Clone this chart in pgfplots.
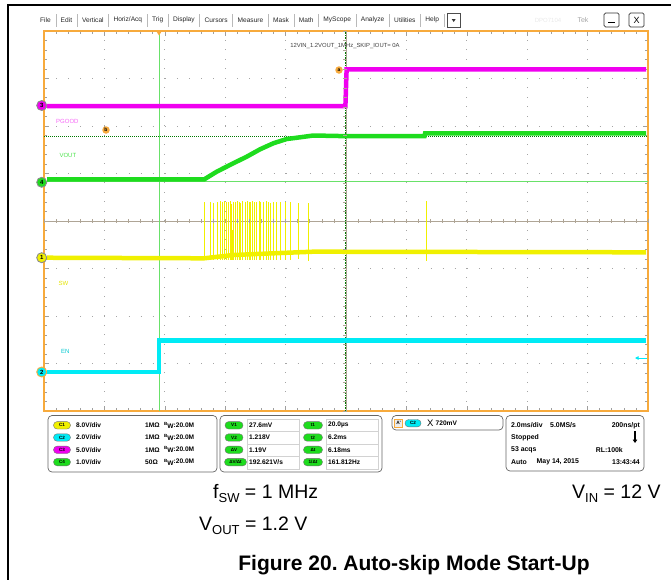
\documentclass[border=0pt]{standalone}
\usepackage{pgfplots}
\pgfplotsset{compat=1.18}
\usepackage{fontspec}
\setmainfont{Liberation Sans}
\usetikzlibrary{arrows.meta}

\definecolor{scopeorange}{RGB}{247,170,60}
\definecolor{trYellow}{RGB}{240,240,0}
\definecolor{trCyan}{RGB}{0,235,245}
\definecolor{trMagenta}{RGB}{240,0,240}
\definecolor{trGreen}{RGB}{30,220,30}
\definecolor{curLight}{RGB}{105,225,105}
\definecolor{curDark}{RGB}{0,120,0}
\definecolor{gridc}{RGB}{165,165,165}
\definecolor{centerc}{RGB}{175,165,150}
\definecolor{ringc}{RGB}{140,140,140}

% pill shaped channel badge: [width]{x}{y}{colour}{text}
\newcommand{\badge}[5][17]{\node[rounded corners=3.6pt, fill=#4, draw=black!55, line width=0.4pt,
  minimum width=#1pt, minimum height=7.4pt, inner sep=0pt,
  font=\fontsize{4.6}{5}\selectfont\bfseries] at (#2,#3) {#5};}
% channel ground marker on the left edge
\newcommand{\chmark}[5]{\node[circle, fill=#3, draw=#4, line width=0.9pt, minimum size=10pt,
  inner sep=0pt, font=\fontsize{6}{6}\selectfont\bfseries] at (#1,#2) {#5};}
\newcommand{\bw}{\raisebox{1.8pt}{\fontsize{4.5}{5}\selectfont B}\raisebox{-1.3pt}{W}:20.0M}

\begin{document}
\begin{tikzpicture}[x=1pt,y=-1pt]
% window frame
\draw[black, line width=1.2pt] (8,580) -- (8,5) -- (672,5);

% menu bar
\tikzset{menu/.style={inner sep=0pt, font=\fontsize{6.6}{7}\selectfont, text=black!85}}
\foreach \t [count=\i, remember=\i as \j (initially 0)] in
  {File,Edit,Vertical,Horiz/Acq,Trig,Display,Cursors,Measure,Mask,Math,MyScope,Analyze,Utilities,Help} {
  \ifnum\i=1
    \node[menu, anchor=west] (m\i) at (40,20) {\t};
  \else
    \node[menu, anchor=west] (m\i) at ([xshift=9.5pt]m\j.east) {\t};
    \draw[gray!55, line width=0.5pt] ([xshift=4.75pt,yshift=-6.5pt]m\j.east) -- ++(0,13pt);
  \fi
}
\draw[gray!55, line width=0.5pt] ([xshift=4.75pt,yshift=-6.5pt]m14.east) -- ++(0,13pt);
\draw[black!70, line width=0.6pt] ([xshift=8pt,yshift=-7pt]m14.east) rectangle ++(13pt,14pt);
\fill[black!80] ([xshift=12.5pt,yshift=1pt]m14.east) -- ++(4pt,0) -- ++(-2pt,-3pt) -- cycle;
\node[font=\fontsize{6}{7}\selectfont, text=gray!18] at (548,20) {DPO7104};
\node[font=\fontsize{7}{8}\selectfont, text=gray!70] at (583,20) {Tek};
\draw[black!80, line width=0.7pt, rounded corners=1.5pt] (604,13) rectangle (619,27);
\draw[black, line width=1.1pt] (608,22.5) -- (615,22.5);
\draw[black!80, line width=0.7pt, rounded corners=1.5pt] (629,13) rectangle (644,27);
\node[font=\fontsize{9}{9}\selectfont] at (636.5,20) {X};

\begin{axis}[
  at={(44pt,-411pt)}, anchor=south west,
  scale only axis, width=604pt, height=380pt,
  xmin=0, xmax=10, ymin=0, ymax=8,
  axis line style={draw=scopeorange, line width=2pt},
  xtick={0,...,10}, ytick={0,...,8},
  minor x tick num=4, minor y tick num=4,
  xticklabels={}, yticklabels={},
  tick align=inside, major tick length=5pt, minor tick length=3pt,
  tick style={gray!75, line width=0.6pt},
  grid=major,
  major x grid style={gridc, line width=0.8pt, dash pattern=on 0.8pt off 8.7pt},
  major y grid style={gridc, line width=0.8pt, dash pattern=on 0.8pt off 11.28pt},
  clip=true,
]
% centre cross hair and cursors
\draw[centerc, line width=0.9pt] (axis cs:0,4) -- (axis cs:10,4);
\draw[centerc, line width=0.9pt] (axis cs:5,0) -- (axis cs:5,8);
\draw[curLight, line width=1pt] (axis cs:1.904,0) -- (axis cs:1.904,8);
\draw[curLight, line width=1pt] (axis cs:0,4.836) -- (axis cs:10,4.836);
\draw[curDark, line width=0.8pt, dash pattern=on 1pt off 1pt] (axis cs:0,5.78) -- (axis cs:10,5.78);
\draw[curDark, line width=1pt, dash pattern=on 1.5pt off 1pt] (axis cs:4.99,0) -- (axis cs:4.99,8);

% C2 EN
\addplot[trCyan, line width=4.5pt, no marks] coordinates {
  (0.05,0.821) (1.90,0.821) (1.90,1.48) (9.97,1.48)};
% C1 SW band
\addplot[trYellow, line width=4.5pt, no marks] coordinates {
  (0.05,3.227) (2.649,3.215) (3.134,3.284) (3.796,3.32) (4.459,3.354) (9.97,3.341)};
% C1 SW switching spikes
\addplot[trYellow, line width=0.75pt, no marks, unbounded coords=jump] coordinates {
  (2.649,3.18) (2.649,4.41) (2.649,nan)
  (2.760,3.18) (2.760,4.40) (2.760,nan)
  (2.803,3.18) (2.803,4.37) (2.803,nan)
  (2.869,3.18) (2.869,4.39) (2.869,nan)
  (2.925,3.18) (2.925,4.42) (2.925,nan)
  (2.952,3.18) (2.952,4.40) (2.952,nan)
  (2.980,3.18) (2.980,4.43) (2.980,nan)
  (3.025,3.18) (3.025,4.41) (3.025,nan)
  (3.051,3.18) (3.051,4.39) (3.051,nan)
  (3.079,3.18) (3.079,4.42) (3.079,nan)
  (3.098,3.18) (3.098,4.36) (3.098,nan)
  (3.118,3.18) (3.118,3.82) (3.118,nan)
  (3.140,3.18) (3.140,4.41) (3.140,nan)
  (3.162,3.18) (3.162,4.40) (3.162,nan)
  (3.200,3.18) (3.200,4.43) (3.200,nan)
  (3.233,3.18) (3.233,4.41) (3.233,nan)
  (3.257,3.18) (3.257,4.38) (3.257,nan)
  (3.290,3.18) (3.290,4.42) (3.290,nan)
  (3.328,3.18) (3.328,4.40) (3.328,nan)
  (3.366,3.18) (3.366,4.43) (3.366,nan)
  (3.404,3.18) (3.404,4.41) (3.404,nan)
  (3.422,3.18) (3.422,4.39) (3.422,nan)
  (3.449,3.18) (3.449,4.42) (3.449,nan)
  (3.488,3.18) (3.488,4.40) (3.488,nan)
  (3.522,3.18) (3.522,4.41) (3.522,nan)
  (3.560,3.18) (3.560,4.43) (3.560,nan)
  (3.588,3.18) (3.588,4.39) (3.588,nan)
  (3.631,3.18) (3.631,4.41) (3.631,nan)
  (3.676,3.18) (3.676,4.42) (3.676,nan)
  (3.720,3.18) (3.720,4.40) (3.720,nan)
  (3.753,3.18) (3.753,4.38) (3.753,nan)
  (3.796,3.18) (3.796,4.41) (3.796,nan)
  (3.853,3.18) (3.853,4.40) (3.853,nan)
  (3.919,3.18) (3.919,4.39) (3.919,nan)
  (3.990,3.18) (3.990,4.41) (3.990,nan)
  (4.084,3.18) (4.084,4.40) (4.084,nan)
  (4.210,3.20) (4.210,4.38) (4.210,nan)
  (4.376,3.16) (4.376,4.37) (4.376,nan)
  (6.325,3.16) (6.325,4.43)};
% C4 VOUT
\addplot[trGreen, line width=4.5pt, no marks] coordinates {
  (0.05,4.874) (2.649,4.874) (2.859,5.038) (3.134,5.215) (3.356,5.354)
  (3.576,5.509) (3.796,5.636) (4.018,5.726) (4.238,5.762) (4.459,5.800)
  (4.901,5.789) (6.30,5.789) (6.31,5.846) (9.97,5.846)};
% C3 PGOOD
\addplot[trMagenta, line width=4.5pt, no marks] coordinates {
  (0.05,6.42) (4.99,6.42) (5.01,7.19) (9.97,7.19)};
\end{axis}

% ticks on the centre lines
\foreach \i in {0,...,50} \draw[centerc, line width=0.6pt] ({44+\i*12.08},219) -- ++(0,4);
\foreach \i in {0,...,40} \draw[centerc, line width=0.6pt] (343,{31+\i*9.5}) -- ++(4,0);

% trigger marks
\fill[scopeorange] (155.5,30) -- (162.5,30) -- (159,35.5) -- cycle;
\draw[trCyan, line width=0.8pt, -{Triangle[width=3.5pt,length=3.5pt]}] (647,358) -- (635,358);

% channel ground markers
\chmark{41.7}{105.5}{trMagenta}{ringc}{3}
\chmark{41.7}{182.3}{trGreen}{ringc}{4}
\chmark{41.7}{257.7}{trYellow}{ringc}{1}
\chmark{41.7}{372}{trCyan}{scopeorange}{2}

% cursor markers
\node[circle, fill=scopeorange, inner sep=0pt, minimum size=7.5pt, font=\fontsize{5}{5}\selectfont\bfseries] at (339,70) {a};
\node[circle, fill=scopeorange, inner sep=0pt, minimum size=7.5pt, font=\fontsize{5}{5}\selectfont\bfseries] at (106,130) {b};

% labels on screen
\node[font=\fontsize{5.9}{6}\selectfont, text=black!75] at (345,45.7) {12VIN\_1.2VOUT\_1MHz\_SKIP\_IOUT= 0A};
\tikzset{lab/.style={anchor=west, inner sep=0pt, font=\fontsize{6}{6}\selectfont}}
\node[lab, text=trMagenta!60] at (56,121.7) {PGOOD};
\node[lab, text=trGreen!80] at (59.3,155.7) {VOUT};
\node[lab, text=trYellow!95!black] at (58.3,283) {SW};
\node[lab, text=trCyan!85!black] at (61,351.7) {EN};

% status panels
\tikzset{pan/.style={draw=black!60, line width=0.7pt, rounded corners=4pt},
         ptx/.style={anchor=west, inner sep=0pt, font=\fontsize{6.6}{7}\selectfont\bfseries}}
\draw[pan] (48,415.5) rectangle (217,472);
\draw[pan] (220,415.5) rectangle (382,472);
\draw[pan] (392,415.5) rectangle (503,430);
\draw[pan] (506,415.5) rectangle (644,471);

% panel 1
\badge{62}{425.3}{trYellow}{C1}
\badge{62}{437.5}{trCyan}{C2}
\badge{62}{449.8}{trMagenta}{C3}
\badge{62}{462.1}{trGreen}{C4}
\node[ptx] at (76,425.3) {8.0V/div};
\node[ptx] at (76,437.5) {2.0V/div};
\node[ptx] at (76,449.8) {5.0V/div};
\node[ptx] at (76,462.1) {1.0V/div};
\node[ptx] at (145,425.3) {1MΩ};
\node[ptx] at (145,437.5) {1MΩ};
\node[ptx] at (145,449.8) {1MΩ};
\node[ptx] at (145,462.1) {50Ω};
\node[ptx] at (164,425.3) {\bw};
\node[ptx] at (164,437.5) {\bw};
\node[ptx] at (164,449.8) {\bw};
\node[ptx] at (164,462.1) {\bw};

% panel 2
\foreach \xa/\xb in {247/299, 326/378} {
  \draw[gray!35, line width=0.5pt] (\xa,419.3) rectangle (\xb,469);
  \foreach \yy in {431.5, 444, 456.5} \draw[gray!35, line width=0.5pt] (\xa,\yy) -- (\xb,\yy);
}
\badge[18]{234}{425.3}{trGreen}{V1}
\badge[18]{234}{437.5}{trGreen}{V2}
\badge[18]{234}{449.8}{trGreen}{ΔV}
\badge[22]{235.5}{462.1}{trGreen}{ΔV/Δt}
\badge[19]{313}{425.3}{trGreen}{t1}
\badge[19]{313}{437.5}{trGreen}{t2}
\badge[19]{313}{449.8}{trGreen}{Δt}
\badge[19]{313}{462.1}{trGreen}{1/Δt}
\node[ptx] at (249,425.3) {27.6mV};
\node[ptx] at (249,437.5) {1.218V};
\node[ptx] at (249,449.8) {1.19V};
\node[ptx] at (249,462.1) {192.621V/s};
\node[ptx] at (328,425.3) {20.0µs};
\node[ptx] at (328,437.5) {6.2ms};
\node[ptx] at (328,449.8) {6.18ms};
\node[ptx] at (328,462.1) {161.812Hz};

% panel 3
\node[draw=scopeorange, fill=gray!15, line width=0.6pt, minimum width=8pt, minimum height=7.5pt,
  inner sep=0pt, font=\fontsize{4.8}{5}\selectfont\bfseries] at (398.7,423.2) {A'};
\badge[16]{413}{423.2}{trCyan}{C2}
\node[inner sep=0pt, font=\fontsize{9.5}{10}\selectfont] at (430.3,423.2) {X};
\node[ptx] at (435.5,423.2) {720mV};

% panel 4
\tikzset{ptq/.style={ptx, font=\fontsize{6.9}{7}\selectfont\bfseries}}
\node[ptq] at (511,425.3) {2.0ms/div};
\node[ptq] at (550,425.3) {5.0MS/s};
\node[ptq, anchor=east] at (640,425.3) {200ns/pt};
\node[ptq] at (511,437.5) {Stopped};
\draw[black, line width=1.4pt, -{Triangle[width=4.5pt,length=3.5pt]}] (635,431) -- (635,443);
\node[ptq] at (511,449.8) {53 acqs};
\node[ptq, anchor=east] at (623,449.8) {RL:100k};
\node[ptq] at (511,462.1) {Auto};
\node[ptq] at (536.5,462.1) {May 14, 2015};
\node[ptq, anchor=east] at (640,462.1) {13:43:44};

% conditions and caption
\tikzset{cond/.style={anchor=base west, inner sep=0pt, font=\fontsize{19.5}{20}\selectfont}}
\node[cond] at (213,498) {f\raisebox{-4pt}{\fontsize{13}{13}\selectfont SW} = 1 MHz};
\node[cond] at (199,530) {V\raisebox{-4pt}{\fontsize{13}{13}\selectfont OUT} = 1.2 V};
\node[cond] at (572,498) {V\raisebox{-4pt}{\fontsize{13}{13}\selectfont IN} = 12 V};
\node[anchor=base, inner sep=0pt, font=\fontsize{21}{22}\selectfont\bfseries] at (414,570)
  {Figure 20.\ Auto-skip Mode Start-Up};

\pgfresetboundingbox
\useasboundingbox (0,0) rectangle (671,579);
\end{tikzpicture}
\end{document}
